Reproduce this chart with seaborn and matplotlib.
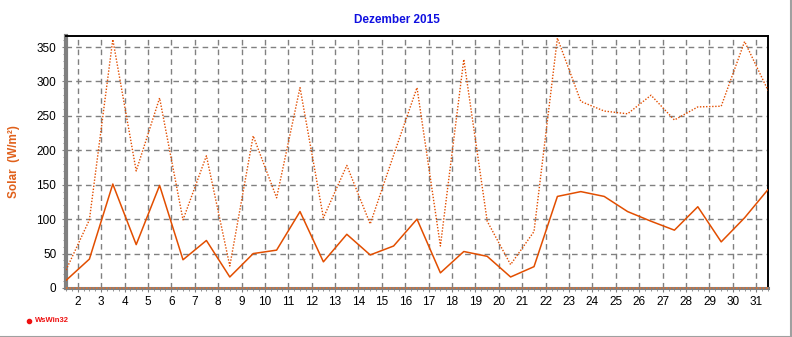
import matplotlib
matplotlib.use("Agg")
import matplotlib.pyplot as plt
from matplotlib.ticker import MultipleLocator
from matplotlib.lines import Line2D
import numpy as np
import pandas as pd
import seaborn as sns

# Daily solar radiation, December 2015 (W/m²)
days = list(range(1, 32))
solar_mean = [11, 42, 151, 63, 149, 41, 69, 16, 50, 55, 111, 38, 78, 48, 61, 100,
              22, 53, 46, 16, 31, 133, 140, 133, 111, 97, 84, 118, 67, 102, 143]
solar_max = [26, 99, 361, 170, 276, 99, 192, 32, 221, 131, 291, 102, 178, 93, 193, 291,
             61, 332, 97, 34, 82, 363, 271, 257, 253, 280, 244, 263, 264, 358, 287]
day_ticks = list(range(2, 32))
y_ticks = [0, 50, 100, 150, 200, 250, 300, 350]

title_text = "Dezember 2015"
ylabel_text = "Solar  (W/m²)"
footer_text = "WsWin32"

line_color = "#e24e00"
grid_color = "#808080"

sns.set_theme(style="white")
plt.rcParams["font.family"] = ["Liberation Sans", "DejaVu Sans"]

fig = plt.figure(figsize=(7.92, 3.37), dpi=100)
fig.patch.set_facecolor("white")
ax = fig.add_axes([66 / 792, 49 / 337, 702 / 792, 252 / 337])

# values are plotted at midday of each date
df = pd.DataFrame({"x": np.array(days) + 0.5, "mean": solar_mean, "max": solar_max})
sns.lineplot(data=df, x="x", y="max", ax=ax, color=line_color, lw=1.0,
             linestyle=(0, (1, 1.2)), zorder=3)
sns.lineplot(data=df, x="x", y="mean", ax=ax, color=line_color, lw=1.1, zorder=3)

ax.set_xlim(1.5, 31.5)
ax.set_ylim(0, 366)
ax.set_xticks(day_ticks)
ax.set_xticklabels([str(d) for d in day_ticks])
ax.set_yticks(y_ticks)
ax.xaxis.set_minor_locator(MultipleLocator(0.25))
ax.yaxis.set_minor_locator(MultipleLocator(10))

ax.grid(True, which="major", color=grid_color, linestyle=(0, (4, 3)), lw=1.0)
ax.set_axisbelow(True)

ax.tick_params(axis="both", which="major", labelsize=8.5, colors="black",
               length=3, width=0.8, direction="out", bottom=True, left=True)
ax.tick_params(axis="both", which="minor", length=2, width=0.6, color=grid_color,
               direction="out", bottom=True, left=True)
ax.tick_params(axis="x", which="major", pad=3, color=grid_color)
ax.tick_params(axis="y", which="major", pad=4, color=grid_color)

for side in ("top", "right"):
    ax.spines[side].set_color("black")
    ax.spines[side].set_linewidth(1.4)
ax.spines["left"].set_color(grid_color)
ax.spines["left"].set_linewidth(3)
ax.spines["bottom"].set_color(grid_color)
ax.spines["bottom"].set_linewidth(2.2)
ax.axhline(0, color="#e07030", lw=1.2, linestyle=(0, (1, 1)), zorder=4, clip_on=False)

ax.set_xlabel("")
ax.set_ylabel(ylabel_text, color="#e0601a", fontsize=8.5, fontweight="bold", labelpad=12)

fig.text(397 / 792, 1 - 20 / 337, title_text, ha="center", va="center",
         color="#1010e0", fontsize=8.5, fontweight="bold")

# footer mark
fig.text(35 / 792, 1 - 321 / 337, footer_text, ha="left", va="center",
         color="#ee1010", fontsize=5.5, fontweight="bold")
fig.add_artist(Line2D([29 / 792], [1 - 320.5 / 337], marker="o", markersize=3,
                      markerfacecolor="#ee1010", markeredgecolor="#ee1010",
                      transform=fig.transFigure))

# outer frame along right and bottom edges
fig.add_artist(Line2D([0, 791 / 792, 791 / 792], [0.5 / 337, 0.5 / 337, 1],
                      color="#a0a0a0", lw=1.5, transform=fig.transFigure))

fig.savefig("out.png", dpi=100, facecolor="white")
